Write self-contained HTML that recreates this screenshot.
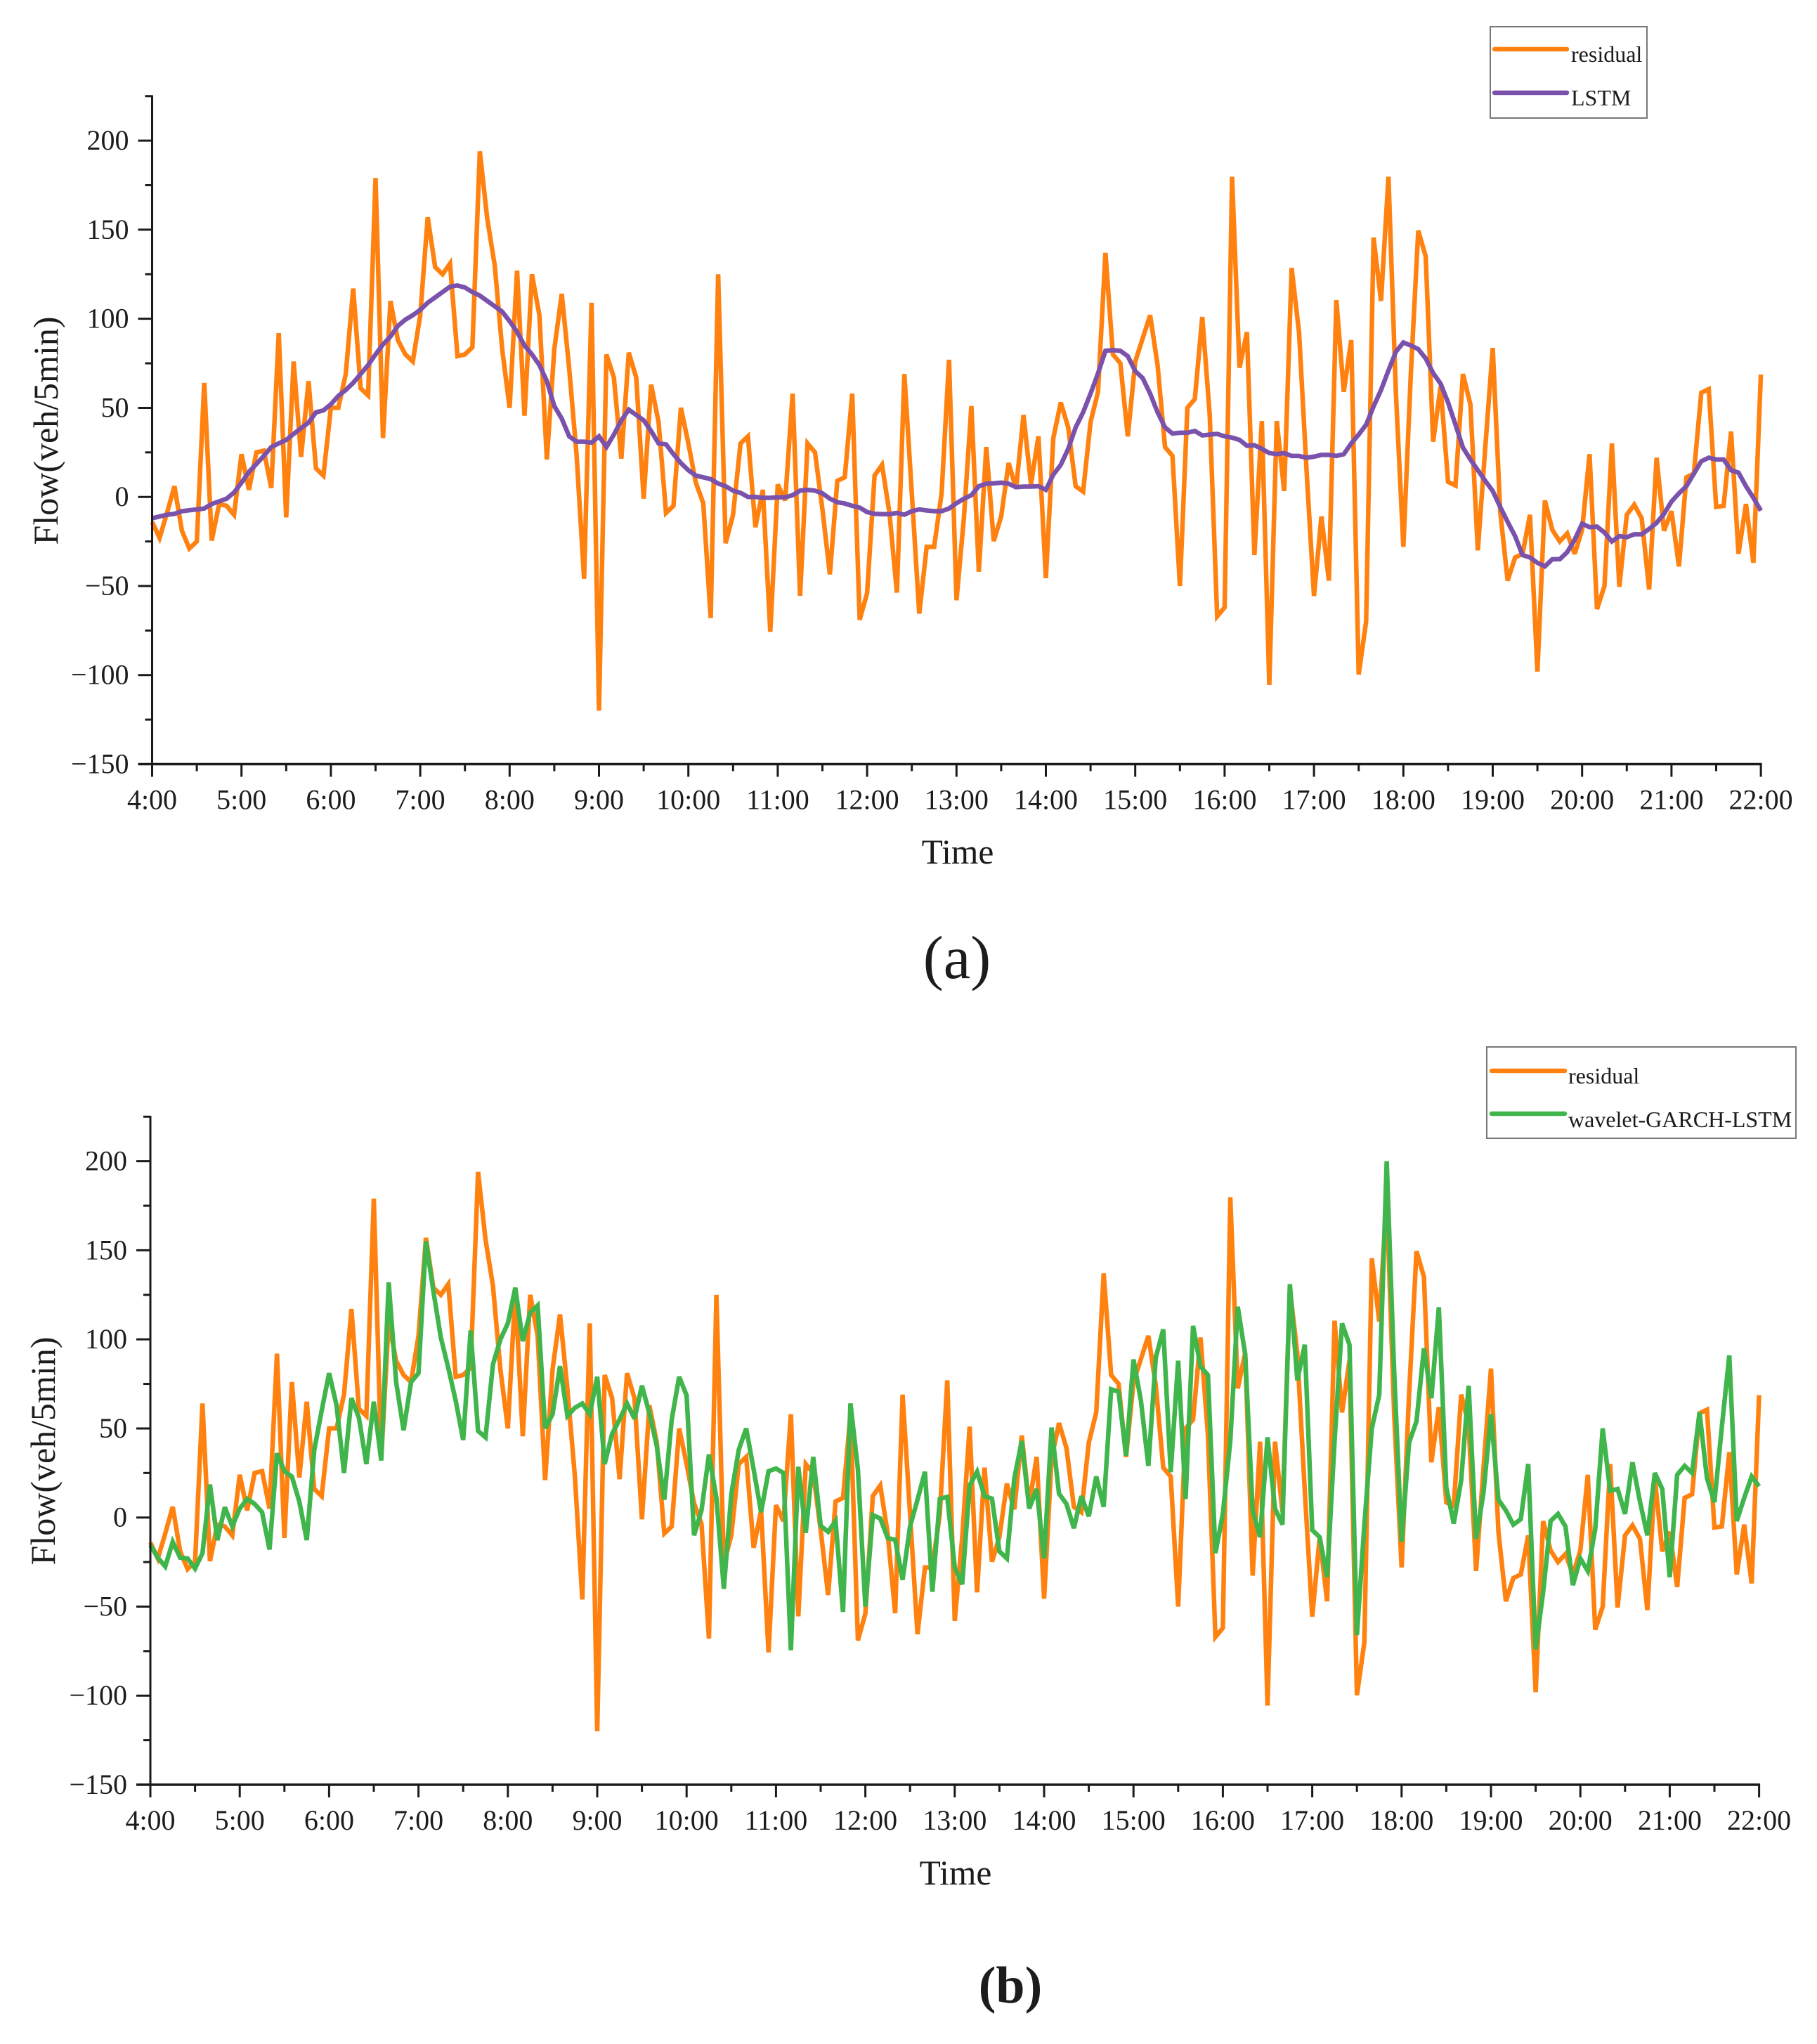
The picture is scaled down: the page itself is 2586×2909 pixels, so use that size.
<!DOCTYPE html>
<html lang="en">
<head>
<meta charset="utf-8">
<title>Residual flow vs. LSTM and wavelet-GARCH-LSTM</title>
<style>
html,body{margin:0;padding:0;background:#fff;}
svg{display:block;}
text{font-family:"Liberation Serif","Times New Roman",serif;fill:#1c1c1c;}
</style>
</head>
<body>
<svg id="figure" xmlns="http://www.w3.org/2000/svg" width="2586" height="2909" viewBox="0 0 2586 2909">
  <rect x="0" y="0" width="2586" height="2909" fill="#ffffff"/>

  <g id="panel-a"></g>
  <g id="panel-b"></g>

  <text transform="translate(82,613) rotate(-90)" text-anchor="middle" font-size="50">Flow(veh/5min)</text>
  <text x="1363" y="1229" text-anchor="middle" font-size="49.5">Time</text>
  <text x="1362" y="1392" text-anchor="middle" font-size="87">(a)</text>

  <g>
    <rect x="2121" y="38" width="223" height="130" fill="#ffffff" stroke="#777777" stroke-width="2"/>
    <line x1="2127" y1="70" x2="2230" y2="70" stroke="#ff8210" stroke-width="6.5" stroke-linecap="round"/>
    <text x="2236" y="88" font-size="32">residual</text>
    <line x1="2127" y1="132" x2="2230" y2="132" stroke="#7a52ab" stroke-width="6.5" stroke-linecap="round"/>
    <text x="2236" y="150" font-size="32">LSTM</text>
  </g>

  <text transform="translate(78,2065) rotate(-90)" text-anchor="middle" font-size="50">Flow(veh/5min)</text>
  <text x="1360" y="2682" text-anchor="middle" font-size="49.5">Time</text>
  <text x="1438" y="2850" text-anchor="middle" font-size="74" font-weight="bold">(b)</text>

  <g>
    <rect x="2116" y="1490" width="440" height="130" fill="#ffffff" stroke="#777777" stroke-width="2"/>
    <line x1="2123" y1="1524" x2="2227" y2="1524" stroke="#ff8210" stroke-width="6.5" stroke-linecap="round"/>
    <text x="2232" y="1542" font-size="32">residual</text>
    <line x1="2123" y1="1585" x2="2227" y2="1585" stroke="#3fb54b" stroke-width="6.5" stroke-linecap="round"/>
    <text x="2232" y="1604" font-size="32">wavelet-GARCH-LSTM</text>
  </g>
</svg>

<script>
// Chart data (one value per 5-minute step, 4:00 to 22:00)
var xTickLabels = ["4:00","5:00","6:00","7:00","8:00","9:00","10:00","11:00","12:00","13:00","14:00","15:00","16:00","17:00","18:00","19:00","20:00","21:00","22:00"];
var yTickValues = [-150,-100,-50,0,50,100,150,200];
var yTickLabels = ["\u2212150","\u2212100","\u221250","0","50","100","150","200"];

var residualValues = [
-14,-23,-9,6,-19,-29,-25,64,-24.5,-4,-5,-10,24,4,25,26,5,92,-11.5,76,22.5,65,16,12,
50,50,69,117,61,57,179,33,110,88,80,76,102,157,129,125,131,79,80,84,194,156,130,83,
50,127,45.6,125,102,21,83,114,72,23,-46,109,-120,80,67,21.5,81,67,-1,63,42,-9,-5,50,
30,8,-3.5,-68,125,-26,-10,30,34,-17,4,-75.7,7,-2,58,-55.5,30,25,-7,-43.5,9,11,58,-69,
-54,12,18,-9,-53.7,69,2,-65.5,-28,-28,2,77,-58,-11.5,51,-42,28,-24.8,-11,19,4.6,46,7,34,
-45.6,33,53,39,6,3,42,59,137,80,75,34,76,89,102,74,28,23,-50,50,55,101,46,-67,
-62,179.7,72.5,92.5,-32.6,42.6,-105.6,42.6,3.3,128.5,92,15,-55.6,-11,-47,110.5,59,88,-99.7,-70,145.6,110,179.7,58,
-28,69,149.5,135,31,62,8.5,6.4,69,52,-30,28,83.6,-8,-47,-34,-32,-10,-98,-2,-18.5,-25,-20.5,-32,
-18.5,24,-63,-50,30,-50.5,-10,-4.4,-12,-52,22,-19,-8,-39,11,13,58.5,60.5,-5.6,-5,36.7,-32,-4,-37,
68.7
];

var lstmValues = [
-12,-11,-10,-9.5,-8,-7.5,-7,-6.5,-4,-2.5,-1,2.5,8,14,18.5,23,28,30,32,35.4,38.6,41.7,47.5,48.6,
52,56.7,60,64,69,74,80,85.6,90,96,99.5,102,105,109,112,115,118,118.7,117.6,115,113,110,107,104,
98.6,92.6,85,80,74,65,51,44,34,31,31,30.5,34,28,35,43,49,46,43,37,30,29.5,24,19,
15,12,11,10,7.5,6,3.5,2.3,0,0,-0.5,-0.5,-0.2,-0.2,1,3.5,4,3.5,2,-1,-3,-3.7,-5,-6,
-8.5,-9.5,-9.7,-9.7,-9,-10,-8,-7,-7.6,-8,-8,-6.5,-3.5,-1,1,6,7.4,7.6,8,7.4,5.5,5.8,5.8,6,
4,12.5,18,27,39,47.5,58,69.4,82,82.4,82,79,70.6,66.7,58,47.5,39,35.6,36,36,37,34.5,35,35.4,
34,33.3,32,28.7,29,27,24.6,24,24.6,23,23,22,22.6,23.6,23.6,23,24,30,35,40.5,50.8,60,71,81.5,
86.7,85,83,77.7,69.5,63.6,53,40.5,27.7,21,15,9,3.3,-5.6,-14,-22,-32.6,-34,-37,-39,-35,-35,-31,-24,
-15,-17,-16.7,-20,-25,-22,-22.6,-21,-21,-18,-14.6,-9.5,-2.6,2,6,13,20,22,21,21,15,13.6,6,-0.5,
-7.7
];

var waveletGarchLstmValues = [
-15.5,-22.5,-27.5,-13.7,-22.5,-23,-28.7,-20,18.5,-12.7,5.8,-5,5,10.4,7.6,3,-18,36,26,23,9,-12.7,37.7,60,
81,63,25,67,56,30,65,32,132,76,49,76,81,155,127,101,84,65.5,43.5,105,48.6,45,86,100,
109,129,99,115,119,50,58,85,57,61.6,64,58,79,30,47,55,64,55.5,74,58.6,40,10,55,79,
68.5,-10,4,35.4,11,-40,13,38,50,27,3,26,27.5,25,-74.5,28.5,-8.6,34,-4.6,-8,-2,-53,64,27,
-50,1.4,-0.5,-11.6,-12.5,-35,-5,10,25.7,-41.7,10.4,11.6,-28,-37.5,18,25.7,12,10.6,-19,-23,22,43,5,16,
-23,50.5,13.4,7.6,-6,12,0.7,23,6,72,70.6,34.7,88.7,65.5,29,90,105.6,25.5,88,10.4,107.6,84.7,80,-20,
2,43,118.3,91.6,4,-11,45,5,-4,131,77,97,-7,-11,-33.5,43,109,97,-66,-4,50,69,200,82,
-13.6,42,54,95,67,118,17,-3.4,21,74,-12,14,58,10,4,-4,-1,30,-74,-42,-2,2,-5,-38,
-23,-30,-6.5,50,15,16,2,31,9,-10,25,16,-33.5,24,29,25,59,22,8.6,51,91,-2,11,23,
17.5
];

var SVG_NS = "http://www.w3.org/2000/svg";
var STEPS_PER_HOUR = 12;
var TOTAL_STEPS = 216;
var Y_MIN = -150;
var Y_MAX = 225.5;

// Panel geometry: left of x axis, width of the plot, y pixel for Y_MIN and Y_MAX
var panelA = { id: "a", xLeft: 216.5, plotWidth: 2289.6, yBottom: 1087.5, yTop: 135.5 };
var panelB = { id: "b", xLeft: 214, plotWidth: 2289.6, yBottom: 2540, yTop: 1588 };

function xPos(panel, step) {
  return panel.xLeft + step / TOTAL_STEPS * panel.plotWidth;
}
function yPos(panel, value) {
  return panel.yBottom - (value - Y_MIN) / (Y_MAX - Y_MIN) * (panel.yBottom - panel.yTop);
}
function make(tag, parent) {
  var el = document.createElementNS(SVG_NS, tag);
  parent.appendChild(el);
  return el;
}
function setLine(el, x1, y1, x2, y2, width) {
  el.setAttribute("x1", x1);
  el.setAttribute("y1", y1);
  el.setAttribute("x2", x2);
  el.setAttribute("y2", y2);
  el.setAttribute("stroke", "#1a1a1a");
  el.setAttribute("stroke-width", width);
}

function drawSeries(panel, root, values, color, seriesName) {
  var pts = [];
  for (var i = 0; i < values.length; i++) {
    pts.push(xPos(panel, i).toFixed(1) + "," + yPos(panel, values[i]).toFixed(1));
  }
  var line = make("polyline", root);
  
  
  line.setAttribute("points", pts.join(" "));
  line.setAttribute("fill", "none");
  line.setAttribute("stroke", color);
  line.setAttribute("stroke-width", "6.5");
  line.setAttribute("stroke-linejoin", "miter");
  line.setAttribute("stroke-miterlimit", "3");
}

function drawAxes(panel, root) {
  var i, tick, label;
  var xRight = panel.xLeft + panel.plotWidth;

  var yAxis = make("line", root);
  
  
  setLine(yAxis, panel.xLeft, panel.yTop, panel.xLeft, panel.yBottom + 18, 3);

  var xAxis = make("line", root);
  
  
  setLine(xAxis, panel.xLeft - 20, panel.yBottom, xRight + 1.5, panel.yBottom, 3.5);

  // y ticks: labelled majors from the tick array, minors halfway between them
  for (i = 0; i < yTickValues.length; i++) {
    var yMajor = yPos(panel, yTickValues[i]);
    tick = make("line", root);
    
    
    setLine(tick, panel.xLeft - 20, yMajor, panel.xLeft, yMajor, 3);

    var yMinor = yPos(panel, yTickValues[i] + 25);
    tick = make("line", root);
    
    
    setLine(tick, panel.xLeft - 10, yMinor, panel.xLeft, yMinor, 3);

    label = make("text", root);
    
    
    label.setAttribute("x", panel.xLeft - 33);
    label.setAttribute("y", yMajor + 13);
    label.setAttribute("text-anchor", "end");
    label.setAttribute("font-size", "40");
    label.textContent = yTickLabels[i];
  }

  // x ticks: hourly majors, half-hour minors
  for (i = 0; i < xTickLabels.length; i++) {
    var xMajor = xPos(panel, i * STEPS_PER_HOUR);
    tick = make("line", root);
    
    
    setLine(tick, xMajor, panel.yBottom, xMajor, panel.yBottom + 18, 3);

    if (i < xTickLabels.length - 1) {
      var xMinor = xPos(panel, i * STEPS_PER_HOUR + STEPS_PER_HOUR / 2);
      tick = make("line", root);
      
      
      setLine(tick, xMinor, panel.yBottom, xMinor, panel.yBottom + 10, 3);
    }

    label = make("text", root);
    
    
    label.setAttribute("x", xMajor);
    label.setAttribute("y", panel.yBottom + 64);
    label.setAttribute("text-anchor", "middle");
    label.setAttribute("font-size", "40");
    label.textContent = xTickLabels[i];
  }
}

var rootA = document.getElementById("panel-a");
var rootB = document.getElementById("panel-b");

drawSeries(panelA, rootA, residualValues, "#ff8210", "residual-line-a");
drawSeries(panelA, rootA, lstmValues, "#7a52ab", "lstm-line");
drawAxes(panelA, rootA);

drawSeries(panelB, rootB, residualValues, "#ff8210", "residual-line-b");
drawSeries(panelB, rootB, waveletGarchLstmValues, "#3fb54b", "wavelet-garch-lstm-line");
drawAxes(panelB, rootB);
</script>
</body>
</html>
